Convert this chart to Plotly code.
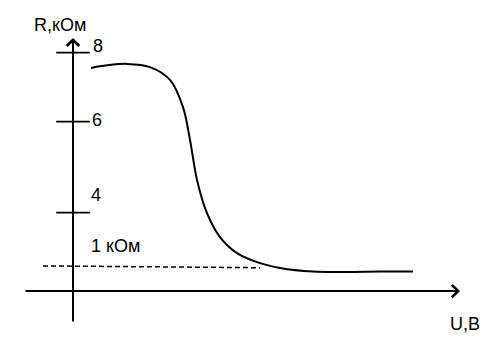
import plotly.graph_objects as go

# Curve R(U) (U arbitrary units, R in sketch units)
U = [0.45, 0.9, 1.35, 1.925, 2.425, 2.75, 2.925, 3.1, 3.35, 3.675, 4.1, 4.675, 5.175, 6.0, 6.85, 7.675, 8.5]
R = [7.62, 7.69, 7.72, 7.64, 7.32, 6.64, 5.82, 4.82, 3.99, 3.39, 2.99, 2.74, 2.62, 2.53, 2.52, 2.53, 2.53]

# "1 kOhm" reference dashed line
ref_U = [-0.75, 4.675]
ref_R = [2.67, 2.625]

# Tick marks on the R axis (drawn positions) and their labels
tick_R = [8.0, 6.275, 4.0]
tick_labels = ["8", "6", "4"]

FONT = "Liberation Sans, Arial, sans-serif"

fig = go.Figure()

fig.add_trace(go.Scatter(x=ref_U, y=ref_R, mode="lines",
                         line=dict(color="black", width=1.5, dash="5px,3px"),
                         hoverinfo="skip"))
fig.add_trace(go.Scatter(x=U, y=R, mode="lines",
                         line=dict(color="black", width=2, shape="spline", smoothing=1.0),
                         hoverinfo="skip"))
fig.add_trace(go.Scatter(x=[0] * len(tick_R), y=tick_R, mode="markers",
                         marker=dict(symbol="line-ew", size=24,
                                     line=dict(color="black", width=1.8)),
                         hoverinfo="skip"))

annotations = []
# axes with arrows
annotations.append(dict(x=0, y=8.37, ax=0, ay=1.24, xref="x", yref="y", axref="x", ayref="y",
                        text="", showarrow=True, arrowhead=4, arrowsize=1.2, arrowwidth=2,
                        arrowcolor="black"))
annotations.append(dict(x=9.675, y=2.04, ax=-1.225, ay=2.04, xref="x", yref="y", axref="x", ayref="y",
                        text="", showarrow=True, arrowhead=4, arrowsize=1.2, arrowwidth=2,
                        arrowcolor="black"))

labels = [
    ("R,кОм", -0.3375, 8.69),
    (tick_labels[0], 0.625, 8.17),
    (tick_labels[1], 0.6, 6.32),
    (tick_labels[2], 0.575, 4.44),
    ("1 кОм", 1.05, 3.17),
    ("U,B", 9.8, 1.2175),
]
for txt, x, y in labels:
    annotations.append(dict(x=x, y=y, xref="x", yref="y", text=txt, showarrow=False,
                            font=dict(family=FONT, size=18, color="black"),
                            xanchor="center", yanchor="middle"))

fig.update_layout(
    width=497, height=356,
    margin=dict(l=0, r=0, t=0, b=0),
    paper_bgcolor="white", plot_bgcolor="white",
    showlegend=False,
    xaxis=dict(range=[-1.825, 10.6], visible=False, fixedrange=True),
    yaxis=dict(range=[0.4175, 9.3175], visible=False, fixedrange=True),
    annotations=annotations,
)

fig.write_html("out.html")
